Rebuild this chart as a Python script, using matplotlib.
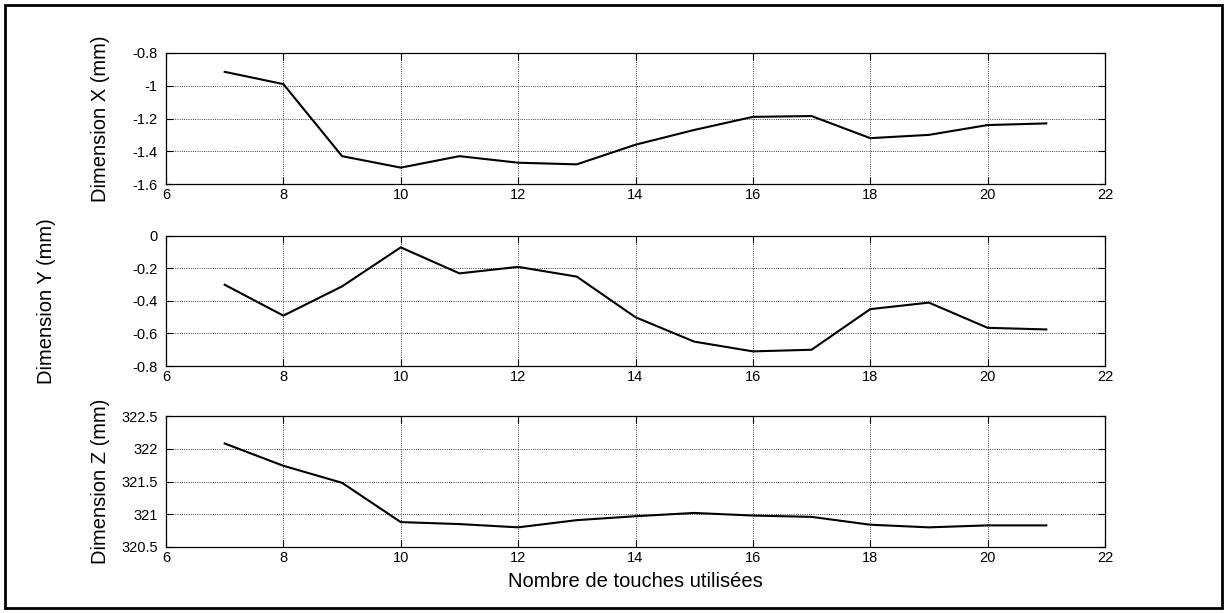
import matplotlib
matplotlib.use("Agg")
import matplotlib.pyplot as plt
from matplotlib.patches import Rectangle

plt.rcParams['font.family'] = ['Liberation Sans Narrow', 'Liberation Sans', 'DejaVu Sans']

touches = [7, 8, 9, 10, 11, 12, 13, 14, 15, 16, 17, 18, 19, 20, 21]
dim_x = [-0.915, -0.99, -1.43, -1.50, -1.43, -1.47, -1.48, -1.36, -1.27,
         -1.19, -1.185, -1.32, -1.30, -1.24, -1.23]
dim_y = [-0.30, -0.49, -0.31, -0.07, -0.23, -0.19, -0.25, -0.50, -0.65,
         -0.71, -0.70, -0.45, -0.41, -0.565, -0.575]
dim_z = [322.08, 321.74, 321.48, 320.88, 320.85, 320.80, 320.91, 320.97,
         321.02, 320.98, 320.96, 320.84, 320.80, 320.83, 320.83]

x_ticks = [6, 8, 10, 12, 14, 16, 18, 20, 22]
y_ticks = [
    [-1.6, -1.4, -1.2, -1, -0.8],
    [-0.8, -0.6, -0.4, -0.2, 0],
    [320.5, 321, 321.5, 322, 322.5],
]
y_ticklabels = [
    ['-1.6', '-1.4', '-1.2', '-1', '-0.8'],
    ['-0.8', '-0.6', '-0.4', '-0.2', '0'],
    ['320.5', '321', '321.5', '322', '322.5'],
]
y_labels = ['Dimension X (mm)', 'Dimension Y (mm)', 'Dimension Z (mm)']
x_label = 'Nombre de touches utilisées'

W, H = 1226, 613
fig = plt.figure(figsize=(W / 100, H / 100), dpi=100)

# axes boxes in pixels: (top, bottom)
boxes = [(53, 184), (236, 366), (416, 547)]
left, right = 166, 1105
label_x = [-0.060, -0.117, -0.060]
label_font = ['Liberation Sans', 'DejaVu Sans']

series = [dim_x, dim_y, dim_z]
for i, (top, bot) in enumerate(boxes):
    ax = fig.add_axes([left / W, 1 - bot / H, (right - left) / W, (bot - top) / H])
    ax.plot(touches, series[i], color='black', linewidth=1.5)
    ax.set_xlim(6, 22)
    ax.set_ylim(y_ticks[i][0], y_ticks[i][-1])
    ax.set_xticks(x_ticks)
    ax.set_yticks(y_ticks[i])
    ax.set_yticklabels(y_ticklabels[i])
    ax.grid(True, linestyle=':', color='black', linewidth=0.6)
    ax.tick_params(direction='in', top=True, right=True, length=5, width=0.8,
                   labelsize=10.5, pad=3)
    ax.tick_params(axis='y', pad=6)
    for s in ax.spines.values():
        s.set_linewidth(0.9)
    ax.set_ylabel(y_labels[i], fontsize=14.5, family=label_font)
    ax.yaxis.set_label_coords(label_x[i], 0.5)
    if i == 2:
        ax.set_xlabel(x_label, fontsize=14.5, family=label_font, labelpad=5)

fig.patches.append(Rectangle((5 / W, 5 / H), 1217 / W, 603 / H, transform=fig.transFigure,
                             fill=False, edgecolor='black', linewidth=2))

fig.savefig('out.png', dpi=100)
